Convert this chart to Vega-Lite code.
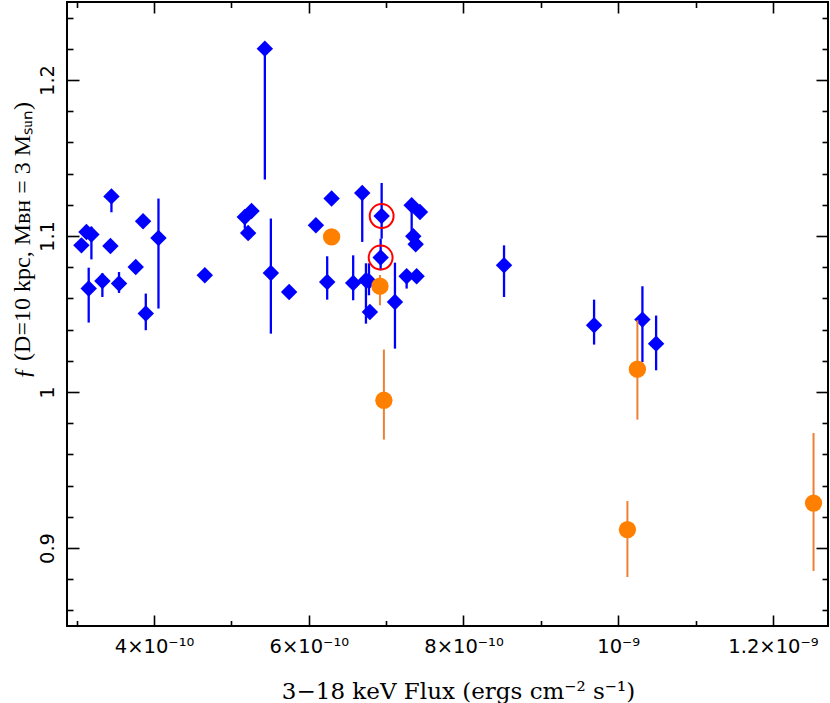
{
  "$schema": "https://vega.github.io/schema/vega-lite/v6.json",
  "width": 761,
  "height": 624,
  "autosize": {"type": "none"},
  "padding": {"left": 67, "top": 2, "right": 2, "bottom": 77},
  "background": "white",
  "config": {"view": {"stroke": "black", "strokeWidth": 2}},
  "datasets": {
    "pts": [
      {"kind": "blue", "flux": 3.061e-10, "f": 1.094, "lo": 1.094, "hi": 1.094, "ring": false},
      {"kind": "blue", "flux": 3.126e-10, "f": 1.1026, "lo": 1.1026, "hi": 1.1026, "ring": false},
      {"kind": "blue", "flux": 3.190e-10, "f": 1.101, "lo": 1.085, "hi": 1.106, "ring": false},
      {"kind": "blue", "flux": 3.155e-10, "f": 1.0663, "lo": 1.0445, "hi": 1.0797, "ring": false},
      {"kind": "blue", "flux": 3.332e-10, "f": 1.0712, "lo": 1.0609, "hi": 1.0761, "ring": false},
      {"kind": "blue", "flux": 3.449e-10, "f": 1.1254, "lo": 1.1152, "hi": 1.128, "ring": false},
      {"kind": "blue", "flux": 3.436e-10, "f": 1.0936, "lo": 1.0936, "hi": 1.0936, "ring": false},
      {"kind": "blue", "flux": 3.547e-10, "f": 1.0695, "lo": 1.0635, "hi": 1.0769, "ring": false},
      {"kind": "blue", "flux": 3.763e-10, "f": 1.0801, "lo": 1.0801, "hi": 1.0801, "ring": false},
      {"kind": "blue", "flux": 3.858e-10, "f": 1.1094, "lo": 1.1094, "hi": 1.1094, "ring": false},
      {"kind": "blue", "flux": 3.893e-10, "f": 1.0503, "lo": 1.0396, "hi": 1.0631, "ring": false},
      {"kind": "blue", "flux": 4.057e-10, "f": 1.0987, "lo": 1.0535, "hi": 1.124, "ring": false},
      {"kind": "blue", "flux": 4.656e-10, "f": 1.0748, "lo": 1.0748, "hi": 1.0748, "ring": false},
      {"kind": "blue", "flux": 5.173e-10, "f": 1.1122, "lo": 1.1047, "hi": 1.114, "ring": false},
      {"kind": "blue", "flux": 5.260e-10, "f": 1.116, "lo": 1.116, "hi": 1.116, "ring": false},
      {"kind": "blue", "flux": 5.216e-10, "f": 1.1019, "lo": 1.1019, "hi": 1.1019, "ring": false},
      {"kind": "blue", "flux": 5.432e-10, "f": 1.2201, "lo": 1.1362, "hi": 1.224, "ring": false},
      {"kind": "blue", "flux": 5.510e-10, "f": 1.0763, "lo": 1.0374, "hi": 1.1112, "ring": false},
      {"kind": "blue", "flux": 5.746e-10, "f": 1.0641, "lo": 1.0641, "hi": 1.0641, "ring": false},
      {"kind": "blue", "flux": 6.092e-10, "f": 1.1069, "lo": 1.1069, "hi": 1.1069, "ring": false},
      {"kind": "blue", "flux": 6.295e-10, "f": 1.124, "lo": 1.124, "hi": 1.124, "ring": false},
      {"kind": "blue", "flux": 6.238e-10, "f": 1.0705, "lo": 1.0592, "hi": 1.087, "ring": false},
      {"kind": "blue", "flux": 6.691e-10, "f": 1.1276, "lo": 1.0962, "hi": 1.13, "ring": false},
      {"kind": "blue", "flux": 6.574e-10, "f": 1.0699, "lo": 1.0588, "hi": 1.0876, "ring": false},
      {"kind": "blue", "flux": 6.739e-10, "f": 1.0716, "lo": 1.0438, "hi": 1.0825, "ring": false},
      {"kind": "blue", "flux": 6.778e-10, "f": 1.071, "lo": 1.062, "hi": 1.0825, "ring": false},
      {"kind": "blue", "flux": 6.790e-10, "f": 1.0513, "lo": 1.0513, "hi": 1.0513, "ring": false},
      {"kind": "blue", "flux": 6.942e-10, "f": 1.1128, "lo": 1.0983, "hi": 1.134, "ring": true},
      {"kind": "blue", "flux": 6.929e-10, "f": 1.0862, "lo": 1.078, "hi": 1.0983, "ring": true},
      {"kind": "blue", "flux": 7.114e-10, "f": 1.0577, "lo": 1.0278, "hi": 1.0829, "ring": false},
      {"kind": "blue", "flux": 7.330e-10, "f": 1.1197, "lo": 1.0994, "hi": 1.122, "ring": false},
      {"kind": "blue", "flux": 7.437e-10, "f": 1.1154, "lo": 1.1154, "hi": 1.1154, "ring": false},
      {"kind": "blue", "flux": 7.351e-10, "f": 1.0998, "lo": 1.0998, "hi": 1.0998, "ring": false},
      {"kind": "blue", "flux": 7.382e-10, "f": 1.0947, "lo": 1.0947, "hi": 1.0947, "ring": false},
      {"kind": "blue", "flux": 7.265e-10, "f": 1.0742, "lo": 1.0663, "hi": 1.078, "ring": false},
      {"kind": "blue", "flux": 7.394e-10, "f": 1.0742, "lo": 1.0742, "hi": 1.0742, "ring": false},
      {"kind": "blue", "flux": 8.524e-10, "f": 1.0812, "lo": 1.0609, "hi": 1.094, "ring": false},
      {"kind": "blue", "flux": 9.688e-10, "f": 1.0428, "lo": 1.0304, "hi": 1.0592, "ring": false},
      {"kind": "blue", "flux": 10.313e-10, "f": 1.0464, "lo": 1.0192, "hi": 1.0678, "ring": false},
      {"kind": "blue", "flux": 10.490e-10, "f": 1.031, "lo": 1.0139, "hi": 1.049, "ring": false},
      {"kind": "orange", "flux": 6.295e-10, "f": 1.0994, "lo": 1.0994, "hi": 1.0994, "ring": false},
      {"kind": "orange", "flux": 6.920e-10, "f": 1.0678, "lo": 1.0556, "hi": 1.075, "ring": false},
      {"kind": "orange", "flux": 6.971e-10, "f": 0.9947, "lo": 0.9695, "hi": 1.0272, "ring": false},
      {"kind": "orange", "flux": 10.248e-10, "f": 1.0146, "lo": 0.9823, "hi": 1.046, "ring": false},
      {"kind": "orange", "flux": 10.119e-10, "f": 0.9118, "lo": 0.8814, "hi": 0.9301, "ring": false},
      {"kind": "orange", "flux": 12.525e-10, "f": 0.9288, "lo": 0.8853, "hi": 0.9737, "ring": false}
    ]
  },
  "data": {"name": "pts"},
  "resolve": {"axis": {"x": "independent", "y": "independent"}},
  "layer": [
    {
      "transform": [{"filter": "datum.kind == 'blue'"}],
      "mark": {"type": "rule", "color": "#0000FF", "strokeWidth": 2.3},
      "encoding": {
        "x": {"field": "flux", "type": "quantitative",
          "scale": {"domain": [2.8745e-10, 1.2712e-9], "nice": false, "zero": false},
          "axis": {"orient": "bottom", "values": [4e-10, 6e-10, 8e-10, 1e-9, 1.2e-9],
            "offset": -11, "tickSize": 11, "tickWidth": 1.6, "tickColor": "black",
            "domain": false, "grid": false, "labelFlush": false, "labelOverlap": false,
            "labelExpr": "round(datum.value*1e10) == 4 ? '4×10⁻¹⁰' : round(datum.value*1e10) == 6 ? '6×10⁻¹⁰' : round(datum.value*1e10) == 8 ? '8×10⁻¹⁰' : round(datum.value*1e10) == 10 ? '10⁻⁹' : '1.2×10⁻⁹'",
            "labelFont": "DejaVu Sans", "labelFontSize": 19.5, "labelColor": "black",
            "labelBaseline": "alphabetic", "labelPadding": 26,
            "title": "3−18 keV Flux (ergs cm⁻² s⁻¹)", "titleFont": "DejaVu Serif", "titleFontSize": 23,
            "titleFontWeight": "normal", "titleColor": "black", "titleX": 391, "titleY": 83,
            "titleAlign": "center", "titleBaseline": "alphabetic"}},
        "y": {"field": "lo", "type": "quantitative",
          "scale": {"domain": [0.85, 1.25], "nice": false, "zero": false},
          "axis": {"orient": "left", "values": [0.9, 1, 1.1, 1.2],
            "offset": -12, "tickSize": 12, "tickWidth": 1.6, "tickColor": "black",
            "domain": false, "grid": false, "labelFlush": false, "labelOverlap": false,
            "labelExpr": "format(datum.value, '.2~f')",
            "labelFont": "DejaVu Sans", "labelFontSize": 19.5, "labelColor": "black",
            "labelAngle": 270, "labelAlign": "center", "labelBaseline": "alphabetic", "labelPadding": 14,
            "title": "ƒ (D=10 kpc, Mʙʜ = 3 Mₛᵤₙ)", "titleFont": "Liberation Serif", "titleFontSize": 24,
            "titleFontWeight": "normal", "titleColor": "black", "titleAngle": 270,
            "titleX": -50, "titleY": 238, "titleAlign": "center", "titleBaseline": "alphabetic"}},
        "y2": {"field": "hi"}
      }
    },
    {
      "transform": [{"filter": "datum.kind == 'blue'"}],
      "mark": {"type": "point", "shape": "diamond", "filled": true, "color": "#0000FF", "opacity": 1, "size": 270, "strokeWidth": 0},
      "encoding": {
        "x": {"field": "flux", "type": "quantitative", "scale": {"domain": [2.8745e-10, 1.2712e-9], "nice": false, "zero": false}, "axis": null},
        "y": {"field": "f", "type": "quantitative", "scale": {"domain": [0.85, 1.25], "nice": false, "zero": false}, "axis": null}
      }
    },
    {
      "transform": [{"filter": "datum.kind == 'orange'"}],
      "mark": {"type": "rule", "color": "#EE8033", "strokeWidth": 2},
      "encoding": {
        "x": {"field": "flux", "type": "quantitative", "scale": {"domain": [2.8745e-10, 1.2712e-9], "nice": false, "zero": false}, "axis": null},
        "y": {"field": "lo", "type": "quantitative", "scale": {"domain": [0.85, 1.25], "nice": false, "zero": false}, "axis": null},
        "y2": {"field": "hi"}
      }
    },
    {
      "transform": [{"filter": "datum.kind == 'orange'"}],
      "mark": {"type": "point", "shape": "circle", "filled": true, "color": "#FF8000", "opacity": 1, "size": 300, "strokeWidth": 0},
      "encoding": {
        "x": {"field": "flux", "type": "quantitative", "scale": {"domain": [2.8745e-10, 1.2712e-9], "nice": false, "zero": false}, "axis": null},
        "y": {"field": "f", "type": "quantitative", "scale": {"domain": [0.85, 1.25], "nice": false, "zero": false}, "axis": null}
      }
    },
    {
      "transform": [{"filter": "datum.ring"}],
      "mark": {"type": "point", "shape": "circle", "filled": false, "color": "#FF0000", "opacity": 1, "size": 570, "strokeWidth": 2},
      "encoding": {
        "x": {"field": "flux", "type": "quantitative", "scale": {"domain": [2.8745e-10, 1.2712e-9], "nice": false, "zero": false}, "axis": null},
        "y": {"field": "f", "type": "quantitative", "scale": {"domain": [0.85, 1.25], "nice": false, "zero": false}, "axis": null}
      }
    },
    {
      "mark": {"type": "point", "opacity": 0},
      "encoding": {
        "x": {"field": "flux", "type": "quantitative", "scale": {"domain": [2.8745e-10, 1.2712e-9], "nice": false, "zero": false},
          "axis": {"orient": "bottom", "values": [3e-10, 5e-10, 7e-10, 9e-10, 1.1e-9], "offset": -5.5, "tickSize": 5.5,
            "tickWidth": 1.6, "tickColor": "black", "domain": false, "grid": false, "labels": false, "title": null}},
        "y": {"field": "f", "type": "quantitative", "scale": {"domain": [0.85, 1.25], "nice": false, "zero": false},
          "axis": {"orient": "left", "values": [0.86, 0.88, 0.92, 0.94, 0.96, 0.98, 1.02, 1.04, 1.06, 1.08, 1.12, 1.14, 1.16, 1.18, 1.22, 1.24],
            "offset": -6, "tickSize": 6, "tickWidth": 1.6, "tickColor": "black", "domain": false, "grid": false, "labels": false, "title": null}}
      }
    },
    {
      "mark": {"type": "point", "opacity": 0},
      "encoding": {
        "x": {"field": "flux", "type": "quantitative", "scale": {"domain": [2.8745e-10, 1.2712e-9], "nice": false, "zero": false},
          "axis": {"orient": "top", "values": [4e-10, 6e-10, 8e-10, 1e-9, 1.2e-9], "offset": -11, "tickSize": 11,
            "tickWidth": 1.6, "tickColor": "black", "domain": false, "grid": false, "labels": false, "title": null}},
        "y": {"field": "f", "type": "quantitative", "scale": {"domain": [0.85, 1.25], "nice": false, "zero": false},
          "axis": {"orient": "right", "values": [0.9, 1, 1.1, 1.2],
            "offset": -12, "tickSize": 12, "tickWidth": 1.6, "tickColor": "black", "domain": false, "grid": false, "labels": false, "title": null}}
      }
    },
    {
      "mark": {"type": "point", "opacity": 0},
      "encoding": {
        "x": {"field": "flux", "type": "quantitative", "scale": {"domain": [2.8745e-10, 1.2712e-9], "nice": false, "zero": false},
          "axis": {"orient": "top", "values": [3e-10, 5e-10, 7e-10, 9e-10, 1.1e-9], "offset": -5.5, "tickSize": 5.5,
            "tickWidth": 1.6, "tickColor": "black", "domain": false, "grid": false, "labels": false, "title": null}},
        "y": {"field": "f", "type": "quantitative", "scale": {"domain": [0.85, 1.25], "nice": false, "zero": false},
          "axis": {"orient": "right", "values": [0.86, 0.88, 0.92, 0.94, 0.96, 0.98, 1.02, 1.04, 1.06, 1.08, 1.12, 1.14, 1.16, 1.18, 1.22, 1.24],
            "offset": -6, "tickSize": 6, "tickWidth": 1.6, "tickColor": "black", "domain": false, "grid": false, "labels": false, "title": null}}
      }
    }
  ]
}
